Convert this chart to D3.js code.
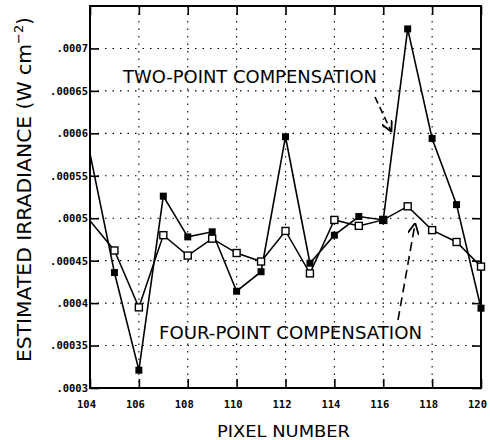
<!DOCTYPE html>
<html><head><meta charset="utf-8">
<script src="https://cdn.jsdelivr.net/npm/d3@7"></script>
<style>body{margin:0;background:#fff}svg{display:block}</style>
</head><body>
<svg id="c" width="490" height="440"></svg>
<script>
const pixels = [104,105,106,107,108,109,110,111,112,113,114,115,116,117,118,119,120];
const twoPoint = [0.000576,0.000436,0.000321,0.000526,0.000478,0.000484,0.000414,0.000437,0.000596,0.000447,0.000480,0.000502,0.000498,0.000723,0.000594,0.000516,0.000394];
const fourPoint = [0.000497,0.000462,0.000395,0.000480,0.000456,0.000476,0.000459,0.000449,0.000485,0.000435,0.000498,0.000491,0.000498,0.000514,0.000486,0.000472,0.000443];
const xTicks = [104,106,108,110,112,114,116,118,120];
const yTicks = [0.0003,0.00035,0.0004,0.00045,0.0005,0.00055,0.0006,0.00065,0.0007];
const yTickLabels = [".0003",".00035",".0004",".00045",".0005",".00055",".0006",".00065",".0007"];

const svg = d3.select("#c");
const L=90, R=481, T=6, B=388;
const x = d3.scaleLinear().domain([104,120]).range([L,R]);
const y = d3.scaleLinear().domain([0.0003,0.00075]).range([B,T]);

const g = svg.append("g");
// grid
g.selectAll(".vg").data(xTicks.slice(1,-1)).join("line")
  .attr("x1",d=>x(d)).attr("x2",d=>x(d)).attr("y1",T).attr("y2",B)
  .attr("stroke","#000").attr("stroke-width",1.1).attr("stroke-dasharray","1.5,6");
g.selectAll(".hg").data(yTicks.slice(1)).join("line")
  .attr("x1",L).attr("x2",R).attr("y1",d=>y(d)).attr("y2",d=>y(d))
  .attr("stroke","#000").attr("stroke-width",1.1).attr("stroke-dasharray","1.5,6");

// axes with inward ticks
const axB = d3.axisBottom(x).tickValues(xTicks).tickSize(-9).tickPadding(15).tickFormat(d3.format("d"));
const axT = d3.axisTop(x).tickValues(xTicks).tickSize(-9).tickFormat("");
const axL = d3.axisLeft(y).tickValues(yTicks).tickSize(-9).tickPadding(12).tickFormat((d,i)=>yTickLabels[i]);
const axR = d3.axisRight(y).tickValues(yTicks).tickSize(-9).tickFormat("");
function style(sel){
  sel.select(".domain").remove();
  sel.selectAll(".tick line").attr("stroke","#000").attr("stroke-width",1.6);
  sel.selectAll("text").attr("fill","#000").attr("font-family","DejaVu Sans Mono").attr("font-size",10.5).attr("font-weight","bold");
}
svg.append("g").attr("transform",`translate(0,${B})`).call(axB).call(style)
  .selectAll("text").attr("dx",-4).attr("dy","0.5em");
svg.append("g").attr("transform",`translate(0,${T})`).call(axT).call(style);
svg.append("g").attr("transform",`translate(${L},0)`).call(axL).call(style)
  .selectAll("text").attr("dx",10);
svg.append("g").attr("transform",`translate(${R},0)`).call(axR).call(style);

// frame
svg.append("rect").attr("x",L).attr("y",T).attr("width",R-L).attr("height",B-T)
  .attr("fill","none").attr("stroke","#000").attr("stroke-width",2);

const line = d3.line().x((d,i)=>x(pixels[i])).y(d=>y(d));
svg.append("path").datum(fourPoint).attr("d",line).attr("fill","none").attr("stroke","#000").attr("stroke-width",1.5);
svg.append("path").datum(twoPoint).attr("d",line).attr("fill","none").attr("stroke","#000").attr("stroke-width",1.6);

const s=7;
svg.selectAll(".fp").data(fourPoint.slice(1)).join("rect")
  .attr("x",(d,i)=>x(pixels[i+1])-s/2).attr("y",d=>y(d)-s/2).attr("width",s).attr("height",s)
  .attr("fill","#fff").attr("stroke","#000").attr("stroke-width",1.4);
svg.selectAll(".tp").data(twoPoint.slice(1)).join("rect")
  .attr("x",(d,i)=>x(pixels[i+1])-s/2).attr("y",d=>y(d)-s/2).attr("width",s).attr("height",s)
  .attr("fill","#000");

// annotations
svg.append("defs").append("marker").attr("id","ah").attr("viewBox","0 0 10 10").attr("refX",9).attr("refY",5)
  .attr("markerWidth",7).attr("markerHeight",7).attr("orient","auto")
  .append("path").attr("d","M0,0 L10,5 L0,10").attr("fill","none").attr("stroke","#000").attr("stroke-width",1.6);
svg.append("text").attr("x",123).attr("y",83).attr("textLength",254).attr("lengthAdjust","spacingAndGlyphs")
  .attr("font-family","DejaVu Sans").attr("font-size",17).text("TWO-POINT COMPENSATION");
svg.append("line").attr("x1",375).attr("y1",97).attr("x2",391).attr("y2",131)
  .attr("stroke","#000").attr("stroke-width",1.6).attr("stroke-dasharray","7,4").attr("marker-end","url(#ah)");
svg.append("text").attr("x",159).attr("y",339).attr("textLength",263).attr("lengthAdjust","spacingAndGlyphs")
  .attr("font-family","DejaVu Sans").attr("font-size",17).text("FOUR-POINT COMPENSATION");
svg.append("line").attr("x1",398).attr("y1",320).attr("x2",415).attr("y2",224)
  .attr("stroke","#000").attr("stroke-width",1.6).attr("stroke-dasharray","9,5").attr("marker-end","url(#ah)");

// axis titles
svg.append("text").attr("x",(L+R)/2-2).attr("y",437).attr("text-anchor","middle")
  .attr("textLength",133).attr("lengthAdjust","spacingAndGlyphs")
  .attr("font-family","DejaVu Sans").attr("font-size",16).text("PIXEL NUMBER");
const yl = svg.append("text").attr("transform","translate(31,362) rotate(-90)").attr("text-anchor","start")
  .attr("font-family","DejaVu Sans").attr("font-size",19);
yl.append("tspan").attr("textLength",318).attr("lengthAdjust","spacingAndGlyphs").text("ESTIMATED IRRADIANCE (W cm");
yl.append("tspan").attr("dy",-8).attr("font-size",13).text("−2");
yl.append("tspan").attr("dy",8).text(")");
</script>
</body></html>
